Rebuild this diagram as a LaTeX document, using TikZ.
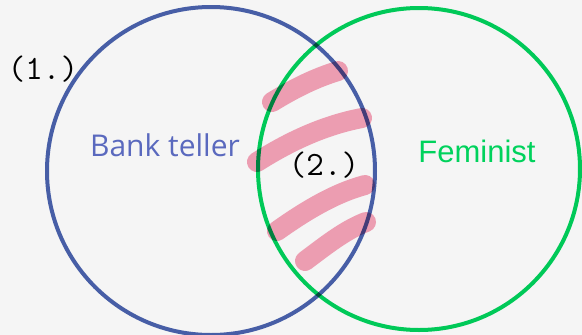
\documentclass[tikz,border=0pt]{standalone}
\usepackage{fontspec}
\setmainfont{Latin Modern Roman}
\newfontfamily\banksans{Open Sans}
\newfontfamily\femsans{Liberation Sans}
\definecolor{bgc}{HTML}{F5F5F5}
\definecolor{bluec}{HTML}{4A62AD}
\definecolor{bluetext}{HTML}{5A69BE}
\definecolor{greenc}{HTML}{00D25C}
\definecolor{pinkc}{HTML}{EC9DB1}
\tikzset{
  setline/.style={line width=4pt},
  brush/.style={draw=pinkc, line width=20pt, line cap=round},
  lbl/.style={inner sep=0pt, anchor=center},
  numlbl/.style={lbl, font=\ttfamily\fontsize{34}{36}\selectfont, text=black}
}
\begin{document}
\begin{tikzpicture}[x=1pt,y=-1pt]
\fill[bgc] (0,0) rectangle (582,335);
\useasboundingbox (0,0) rectangle (582,335);
% brush strokes
\coordinate (s1a) at (272,102);
\coordinate (s1b) at (338,71);
\coordinate (s2a) at (257,162);
\coordinate (s2b) at (362,118);
\coordinate (s3a) at (277,231);
\coordinate (s3b) at (365,185);
\coordinate (s4a) at (305,261);
\coordinate (s4b) at (366,222);
\draw[brush] (s1a) .. controls (295,88) and (315,78) .. (s1b);
\draw[brush] (s2a) .. controls (290,141) and (325,125) .. (s2b);
\draw[brush] (s3a) .. controls (305,211) and (335,193) .. (s3b);
\draw[brush] (s4a) .. controls (325,246) and (345,230) .. (s4b);
\begin{scope}[blend mode=multiply]
\draw[setline, draw=bluec] (211,171) circle (164pt);
\draw[setline, draw=greenc] (419,169) circle (161pt);
\end{scope}
\node[lbl, font=\banksans\fontsize{30}{32}\selectfont, text=bluetext] (bank) at (165,145) {Bank teller};
\node[lbl, font=\femsans\fontsize{31}{33}\selectfont, text=greenc] (fem) at (477,151) {Feminist};
\node[numlbl] (one) at (43,69) {(1.)};
\node[numlbl] (two) at (324,165) {(2.)};
\end{tikzpicture}
\end{document}
